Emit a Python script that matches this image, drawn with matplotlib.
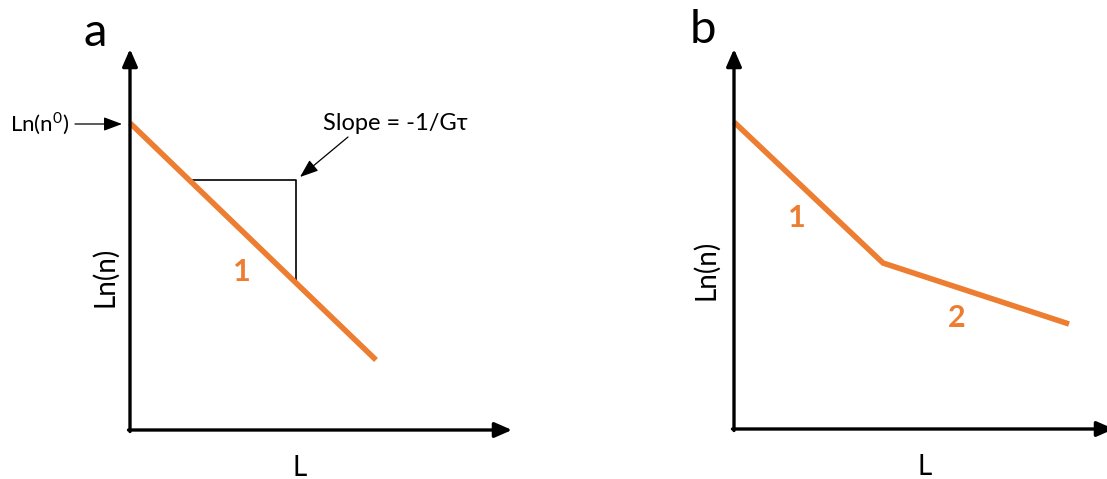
import matplotlib.pyplot as plt

plt.rcParams['font.family'] = ['Lato', 'DejaVu Sans']

ORANGE = '#ED7D31'

# panel a: single straight line (distances measured from the origin of the axes)
a_L = [0, 246]
a_lnn = [307, 70]
# slope triangle
tri_L = [60, 166, 166]
tri_lnn = [250, 250, 148]

# panel b: two segments with a knee
b_L = [0, 149, 335]
b_lnn = [307, 166, 105]

W, H = 1107, 479
fig = plt.figure(figsize=(W / 100, H / 100), dpi=100)


def make_axes(x0, y0, x1, y1):
    # pixel box -> figure fraction, y measured from top
    ax = fig.add_axes([x0 / W, (H - y0) / H, (x1 - x0) / W, (y0 - y1) / H])
    ax.set_xlim(0, x1 - x0)
    ax.set_ylim(0, y0 - y1)
    ax.axis('off')
    return ax


def draw_axes_arrows(ax, xmax, ymax):
    kw = dict(arrowstyle='-|>,head_length=0.8,head_width=0.35', lw=2.4,
              color='black', mutation_scale=13, shrinkA=0, shrinkB=0)
    ax.annotate('', xy=(0, ymax), xytext=(0, -1.5), arrowprops=kw,
                annotation_clip=False)
    ax.annotate('', xy=(xmax, 0), xytext=(-1.5, 0), arrowprops=kw,
                annotation_clip=False)


# ---- panel a ----
ax1 = make_axes(130, 430, 512, 49)
draw_axes_arrows(ax1, 382, 381)
ax1.plot(tri_L, tri_lnn, color='black', lw=1.2, clip_on=False)
ax1.plot(a_L, a_lnn, color=ORANGE, lw=4, solid_capstyle='butt', clip_on=False)

thin = dict(arrowstyle='-|>,head_length=0.8,head_width=0.3', lw=0.9,
            color='black', mutation_scale=14, shrinkA=0, shrinkB=0)
ax1.annotate('', xy=(-8, 306), xytext=(-55, 306), arrowprops=thin,
             annotation_clip=False)
ax1.text(-90, 306, r'Ln(n$^{\mathregular{0}}$)', fontsize=16, ha='center',
         va='center')
ax1.annotate('', xy=(170, 253), xytext=(218, 293), arrowprops=thin,
             annotation_clip=False)
ax1.text(193, 307, 'Slope = -1/Gτ', fontsize=17, ha='left', va='center')
ax1.text(112, 158, '1', fontsize=22, fontweight='bold', color=ORANGE,
         ha='center', va='center')
ax1.text(-25, 153, 'Ln(n)', fontsize=20, rotation=90, ha='center', va='center')
ax1.text(170, -38, 'L', fontsize=20, ha='center', va='center')
ax1.text(-35, 397, 'a', fontsize=34, ha='center', va='center')

# ---- panel b ----
ax2 = make_axes(734, 429, 1107, 49)
draw_axes_arrows(ax2, 380, 380)
ax2.plot(b_L, b_lnn, color=ORANGE, lw=4, solid_capstyle='butt',
         solid_joinstyle='miter', clip_on=False)
ax2.text(63, 211, '1', fontsize=22, fontweight='bold', color=ORANGE,
         ha='center', va='center')
ax2.text(223, 111, '2', fontsize=22, fontweight='bold', color=ORANGE,
         ha='center', va='center')
ax2.text(-28, 159, 'Ln(n)', fontsize=20, rotation=90, ha='center', va='center')
ax2.text(191, -38, 'L', fontsize=20, ha='center', va='center')
ax2.text(-31, 399, 'b', fontsize=34, ha='center', va='center')

fig.savefig('out.png', dpi=100)
